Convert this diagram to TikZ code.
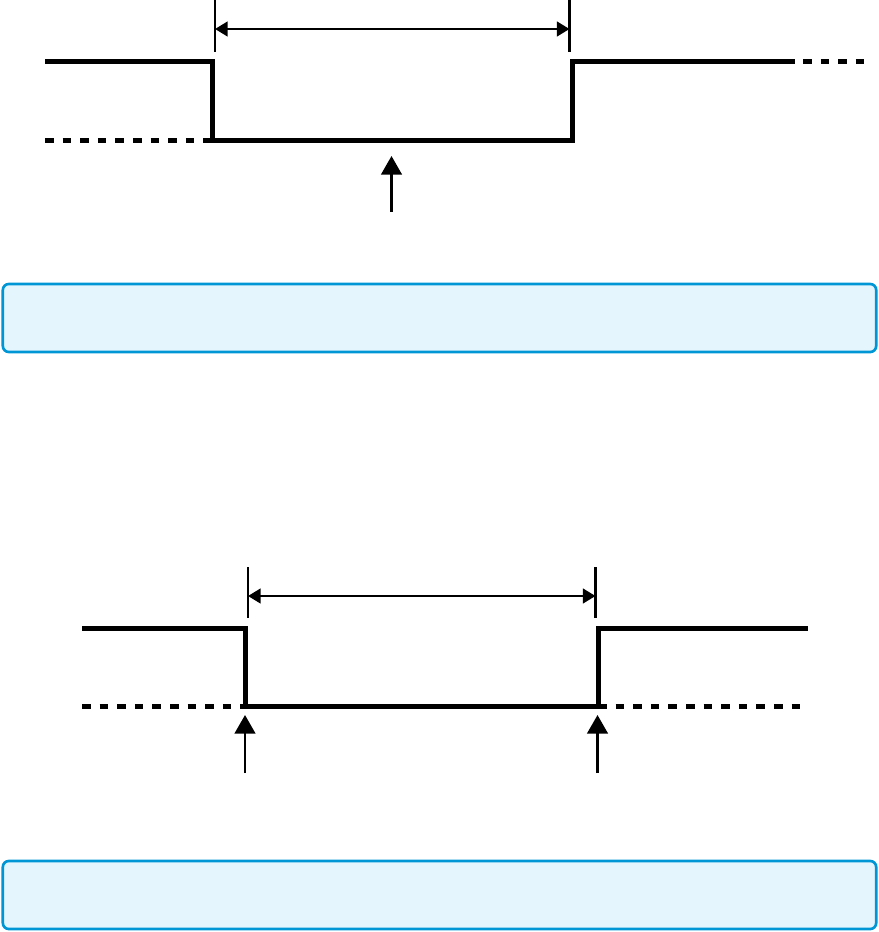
\documentclass[tikz,border=0pt]{standalone}
\usetikzlibrary{arrows.meta}

\definecolor{notefill}{HTML}{E4F5FD}
\definecolor{noteline}{HTML}{0096D6}

\begin{document}
\begin{tikzpicture}[
    x=0.03cm, y=-0.03cm,
    signal/.style={line width=0.15cm, line join=miter},
    dotted low/.style={signal, dash pattern=on 0.255cm off 0.273cm},
    tick/.style={line width=0.075cm},
    span/.style={{Triangle[length=0.38cm,width=0.44cm]}-{Triangle[length=0.38cm,width=0.44cm]}, line width=0.075cm},
    marker/.style={-{Triangle[length=0.56cm,width=0.62cm]}, line width=0.075cm},
    note/.style={
        draw=noteline,
        fill=notefill,
        line width=0.08cm,
        rounded corners=0.18cm,
        minimum width=26.2cm,
        minimum height=2.04cm
    }
]
\useasboundingbox (0,0) rectangle (879,932);

% Top waveform
\draw[dotted low] (45,141) -- (212,141);
\draw[signal] (45,62) -| (212,141) -| (572,62) -- (795,62);
\draw[dotted low] (803,62) -- (866,62);

% Top span
\coordinate (t1) at (215,0);
\coordinate (t2) at (569.5,0);
\draw[tick] (t1) -- ++(0,52);
\draw[tick] (t2) -- ++(0,52);
\draw[span] ([yshift=-0.87cm]t1) -- ([yshift=-0.87cm]t2);

% Top marker
\coordinate (m1) at (391.5,212);
\coordinate (m1tip) at (391.5,156);
\draw[marker] (m1) -- (m1tip);

% Top note
\node[note] (note1) at (439.5,318) {};

% Bottom waveform
\draw[dotted low] (82,706) -- (245,706);
\draw[dotted low] (598,706) -- (808,706);
\draw[signal] (82,628) -| (245.5,706) -| (598,628) -- (808,628);

% Bottom span
\coordinate (b1) at (248,567);
\coordinate (b2) at (595.5,567);
\draw[tick] (b1) -- ++(0,51);
\draw[tick] (b2) -- ++(0,51);
\draw[span] ([yshift=-0.87cm]b1) -- ([yshift=-0.87cm]b2);

% Bottom markers
\coordinate (m2) at (245,773);
\coordinate (m2tip) at (245,715);
\coordinate (m3) at (597.5,773);
\coordinate (m3tip) at (597.5,715);
\draw[marker] (m2) -- (m2tip);
\draw[marker] (m3) -- (m3tip);

% Bottom note
\node[note] (note2) at (439.5,895) {};

\end{tikzpicture}
\end{document}
